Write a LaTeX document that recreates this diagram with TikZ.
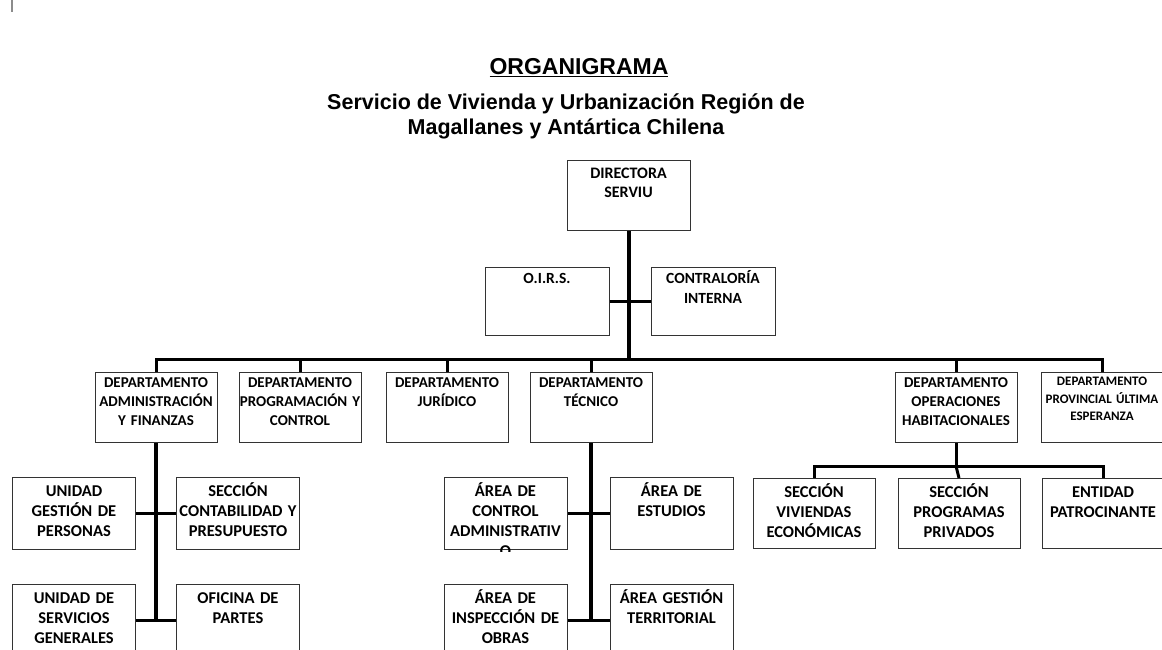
\documentclass[tikz,border=0pt]{standalone}
\usepackage{fontspec}
\setmainfont{Carlito}
\newfontfamily\headfont{Liberation Sans}
\usetikzlibrary{positioning}
\tikzset{
	unit/.style={
		draw=black!80,
		line width=1pt,
		anchor=north,
		align=center,
		inner sep=0pt
	},
	chief/.style={
		unit,
		text width=123pt,
		text height=18pt, text depth=52pt,
		font=\fontsize{16}{19}\selectfont\bfseries
	},
	staff/.style={
		unit,
		text width=124pt,
		text height=16pt, text depth=52pt,
		font=\fontsize{15.5}{20}\selectfont\bfseries
	},
	dept/.style={
		unit,
		text width=122pt,
		text height=15pt, text depth=55pt,
		font=\fontsize{15}{19}\selectfont\bfseries
	},
	small dept/.style={
		dept,
		text height=13pt, text depth=57pt,
		font=\fontsize{13}{17.5}\selectfont\bfseries
	},
	sub/.style={
		unit,
		text width=123pt,
		text height=19pt, text depth=53pt,
		font=\fontsize{16.5}{20}\selectfont\bfseries
	},
	trunk/.style={line width=4pt},
	bus/.style={line width=3pt, line join=miter},
	cross/.style={line width=3pt},
	thin cross/.style={line width=2.5pt},
	heading/.style={anchor=base, inner sep=0pt,
		font=\headfont\bfseries\fontsize{23}{27}\selectfont},
	subheading/.style={anchor=base, inner sep=0pt, align=center,
		font=\headfont\bfseries\fontsize{21.5}{25}\selectfont},
	cursor/.style={draw=black!45, line width=1.5pt}
}
\begin{document}
\begin{tikzpicture}[x=1pt, y=-1pt]
	\useasboundingbox (0,0) rectangle (1162,650);
	\clip (0,0) rectangle (1162,650);
	\draw[cursor] (12,0) -- (12,12);
	% titles (baseline of the last line)
	\node[heading]    (ttl) at (579,75)  {\underline{ORGANIGRAMA}};
	\node[subheading] (sub) at (566,135) {Servicio de Vivienda y Urbanización Región de\\Magallanes y Antártica Chilena};
	% direction
	\node[chief]                    (dir)  at (628.5,160) {DIRECTORA\\SERVIU};
	\node[staff]                    (oirs) at (547,267)   {O.I.R.S.};
	\node[staff, right=41pt of oirs] (cont)               {CONTRALORÍA\\INTERNA};
	% departments
	\node[dept]                     (adm)  at (156,372) {DEPARTAMENTO\\ADMINISTRACIÓN\\Y FINANZAS};
	\node[dept, right=21pt of adm]  (prog)              {DEPARTAMENTO\\PROGRAMACIÓN Y\\CONTROL};
	\node[dept, right=24pt of prog] (jur)               {DEPARTAMENTO\\JURÍDICO};
	\node[dept, right=21pt of jur]  (tec)               {DEPARTAMENTO\\TÉCNICO};
	\node[dept]                     (ope)  at (956,372) {DEPARTAMENTO\\OPERACIONES\\HABITACIONALES};
	\node[small dept, right=23pt of ope] (prov)         {DEPARTAMENTO\\PROVINCIAL ÚLTIMA\\ESPERANZA};
	% administracion y finanzas
	\node[sub]                      (ugp)  at (74,477)  {UNIDAD\\GESTIÓN DE\\PERSONAS};
	\node[sub, right=40pt of ugp]   (scp)               {SECCIÓN\\CONTABILIDAD Y\\PRESUPUESTO};
	\node[sub, below=34pt of ugp]   (usg)               {UNIDAD DE\\SERVICIOS\\GENERALES};
	\node[sub, right=40pt of usg]   (ofp)               {OFICINA DE\\PARTES};
	% tecnico
	\begin{scope}
		\clip (430,470) rectangle (580,551);
		\node[sub]                  (acad) at (505.5,477) {ÁREA DE\\CONTROL\\ADMINISTRATIV\\O};
	\end{scope}
	\node[sub, right=42pt of acad]  (aest)              {ÁREA DE\\ESTUDIOS};
	\node[sub, below=34pt of acad]  (aio)               {ÁREA DE\\INSPECCIÓN DE\\OBRAS};
	\node[sub, right=42pt of aio]   (agt)               {ÁREA GESTIÓN\\TERRITORIAL};
	% operaciones habitacionales
	\node[sub, text width=122pt, text depth=51pt] (svi) at (814,478) {SECCIÓN\\VIVIENDAS\\ECONÓMICAS};
	\node[sub, text width=122pt, text depth=51pt, right=22pt of svi] (spp) {SECCIÓN\\PROGRAMAS\\PRIVADOS};
	\node[sub, text width=122pt, text depth=51pt, right=21pt of spp] (epa) {ENTIDAD\\PATROCINANTE};
	% junctions
	\coordinate (hub)    at ([yshift=13pt]tec.north -| dir.south);
	\coordinate (opshub) at ([yshift=-23pt]ope.south);
%
	\draw[trunk] (dir.south) -- (hub);
	\draw[thin cross] (oirs) -- (cont);
	\draw[bus] (adm.north) |- (prov.north |- hub) -- (prov.north);
	\foreach \d in {prog,jur,tec,ope}
		\draw[bus] (\d.north |- hub) -- (\d.north);
	\draw[trunk] (adm.south) -- (adm.south |- usg.east);
	\draw[cross] (ugp) -- (scp);
	\draw[cross] (usg) -- (ofp);
	\draw[trunk] (tec.south) -- (tec.south |- aio.east);
	\draw[cross] (acad) -- (aest);
	\draw[cross] (aio) -- (agt);
	\draw[bus] (ope.south) -- (opshub);
	\draw[bus] (svi.north) |- (epa.north |- opshub) -- (epa.north);
	\draw[bus] (opshub) -- (spp.north |- svi.north);
\end{tikzpicture}
\end{document}
